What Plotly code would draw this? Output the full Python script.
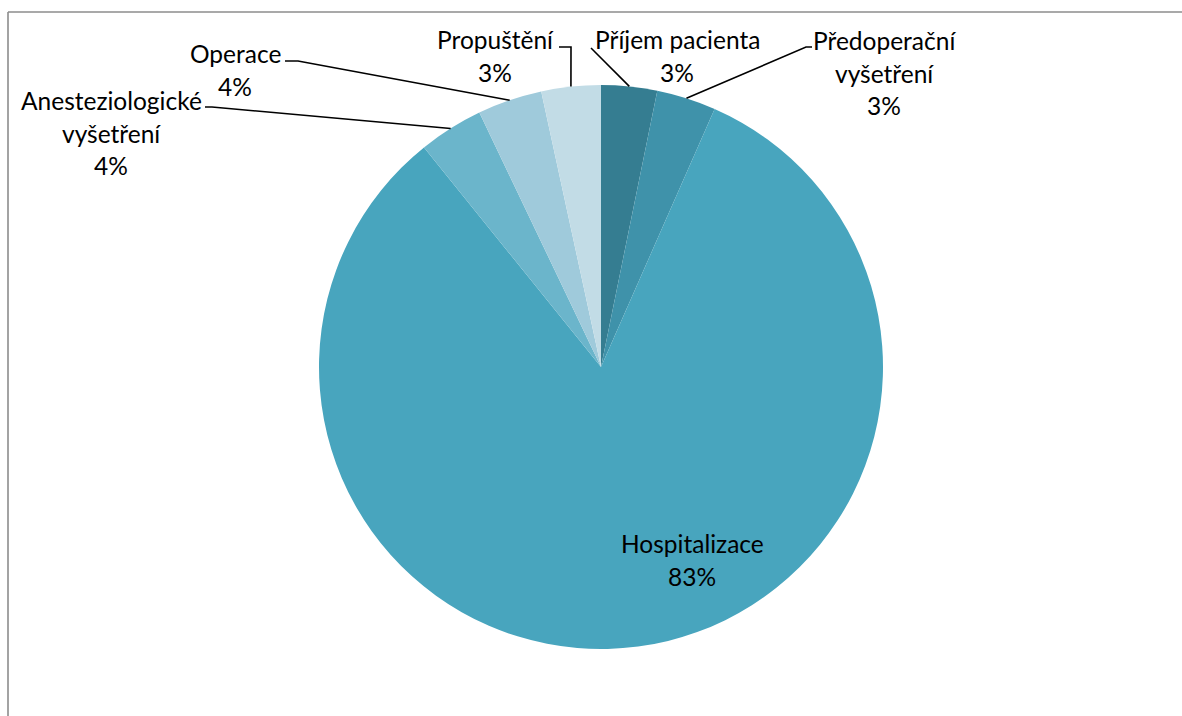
import math
import plotly.graph_objects as go

# Share of patient-care stages (percent of total)
stages = ["Příjem pacienta", "Předoperační vyšetření", "Hospitalizace",
          "Anesteziologické vyšetření", "Operace", "Propuštění"]
shares = [3.2, 3.4, 82.6, 3.7, 3.7, 3.4]
colors = ["#357D91", "#3F92AA", "#48A5BE", "#6BB5CB", "#9FCADB", "#C2DCE6"]

# Text layout for each label: lines of the name and where the block sits (px)
label_lines = [["Příjem pacienta"], ["Předoperační", "vyšetření"], ["Hospitalizace"],
               ["Anesteziologické", "vyšetření"], ["Operace"], ["Propuštění"]]
label_pos = [(677, 56), (884, 73), (692, 560), (111, 133), (235, 70), (495, 56)]
# Leader line knots outside the pie (px); None = no leader
leader_knots = [[(591, 48)], [(806, 47), (812, 47)], None,
                [(212, 107), (205, 107)], [(298, 61), (285, 61)], [(571, 47), (559, 47)]]

W, H = 1182, 716
CX, CY, R = 601, 367, 282
FONT = "Lato"


def px(x, y):
    return x / W, 1 - y / H


fig = go.Figure(go.Pie(
    labels=stages, values=shares, sort=False, direction="clockwise", rotation=0,
    marker=dict(colors=colors, line=dict(width=0)),
    textinfo="none", hoverinfo="label+percent", showlegend=False,
    domain=dict(x=[(CX - R) / W, (CX + R) / W], y=[1 - (CY + R) / H, 1 - (CY - R) / H]),
))

total = sum(shares)
annotations = []
shapes = []
cum = 0.0
for name_lines, v, pos, knots in zip(label_lines, shares, label_pos, leader_knots):
    pct = f"{round(100 * v / total)}%"
    mid = (cum + v / 2) / total * 2 * math.pi
    cum += v
    lines = name_lines + [pct]
    # stack lines with fixed spacing around the block centre
    step = 32.5
    y0 = pos[1] - step * (len(lines) - 1) / 2
    for i, t in enumerate(lines):
        x, y = px(pos[0], y0 + i * step)
        annotations.append(dict(x=x, y=y, xref="paper", yref="paper", text=t,
                                showarrow=False, xanchor="center", yanchor="middle",
                                font=dict(family=FONT, size=24.5, color="#000000")))
    if knots:
        ax = CX + R * math.sin(mid)
        ay = CY - R * math.cos(mid)
        pts = [(ax, ay)] + knots
        path = "M " + " L ".join(f"{px(a, b)[0]},{px(a, b)[1]}" for a, b in pts)
        shapes.append(dict(type="path", path=path, xref="paper", yref="paper",
                           line=dict(color="#000000", width=1.6)))

# chart frame (left and top edges)
shapes.append(dict(type="line", xref="paper", yref="paper",
                   x0=8 / W, x1=8 / W, y0=0, y1=1 - 12 / H,
                   line=dict(color="#8C8C8C", width=1.6)))
shapes.append(dict(type="line", xref="paper", yref="paper",
                   x0=8 / W, x1=1, y0=1 - 12 / H, y1=1 - 12 / H,
                   line=dict(color="#8C8C8C", width=1.6)))

fig.update_layout(width=W, height=H, margin=dict(l=0, r=0, t=0, b=0),
                  paper_bgcolor="#FFFFFF", plot_bgcolor="#FFFFFF",
                  annotations=annotations, shapes=shapes)

fig.write_html("out.html")
